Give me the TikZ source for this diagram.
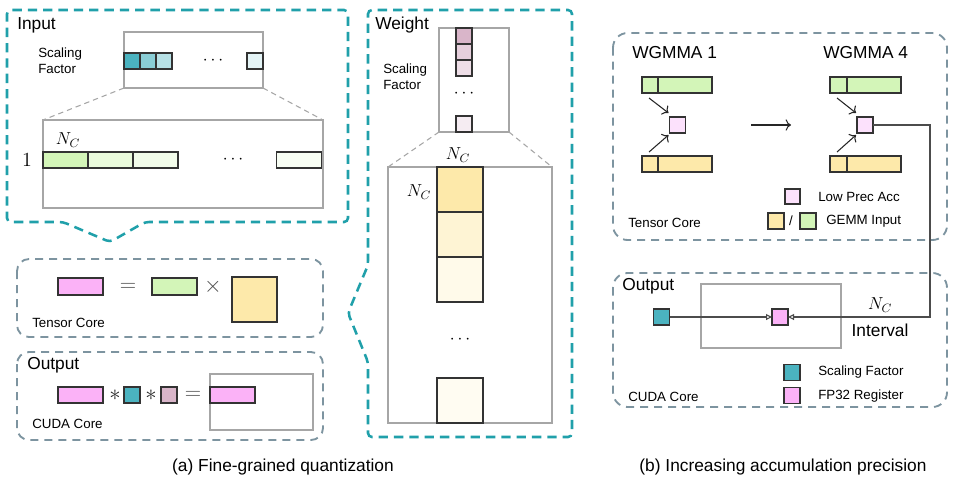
\documentclass[tikz,border=0pt]{standalone}
\usepackage{fix-cm}
\usepackage{fontspec}
\setmainfont{Liberation Sans}
\usetikzlibrary{arrows.meta, positioning, calc}
\definecolor{cteal}{RGB}{32,160,170}
\definecolor{cslate}{RGB}{125,148,160}
\definecolor{csf}{RGB}{75,179,192}
\definecolor{cmauve}{RGB}{217,181,201}
\definecolor{cgreen}{RGB}{211,245,184}
\definecolor{cyellow}{RGB}{253,233,170}
\definecolor{cpink}{RGB}{251,178,247}
\definecolor{cpinklow}{RGB}{252,225,252}

\begin{document}
\begin{tikzpicture}[
    x=0.75pt, y=-0.75pt,
    every node/.style={font=\fontsize{10}{12}\selectfont, inner sep=0pt},
    big/.style={font=\fontsize{13}{15}\selectfont},
    sym/.style={font=\fontsize{17}{19}\selectfont, text=black!70},
    cell/.style={draw=black!80, line width=0.9pt, outer sep=0pt, minimum width=12pt, minimum height=12pt},
    bar/.style={cell, minimum width=33.75pt},
    wcell/.style={cell, minimum width=34.5pt, minimum height=33.75pt},
    frame/.style={draw=gray!70, line width=0.9pt, outer sep=0pt},
    tealbox/.style={draw=cteal, line width=1.9pt, dash pattern=on 7pt off 4.5pt, rounded corners=3pt},
    corebox/.style={draw=cslate, line width=1.4pt, dash pattern=on 6pt off 4.5pt, rounded corners=9pt},
    zoomline/.style={draw=gray!70, line width=0.8pt, dash pattern=on 4pt off 3pt},
    flow/.style={draw=black!85, line width=0.8pt, -{To[scale=1.2]}},
    wire/.style={draw=gray!60!black, line width=0.8pt, -{Triangle[open, length=4.5pt, width=4.5pt]}}
]
\useasboundingbox (0,0) rectangle (960,487);

%% Input
\draw[tealbox] (180,10) -- (348,10) -- (348,222) -- (145,222) -- (110,242) -- (63,222) -- (7,222) -- (7,10) -- cycle;
\node[big, anchor=west] (intitle) at (17,25) {Input};
\node[frame, minimum width=104.25pt, minimum height=42pt] (insf) at (193.5,60) {};
\node[align=left, anchor=west] (insflbl) at (38,61) {Scaling\\Factor};
\node[cell, fill=csf] (sf1) at (132,61) {};
\node[cell, fill=csf!65, right=0pt of sf1] (sf2) {};
\node[cell, fill=csf!40, right=0pt of sf2] (sf3) {};
\node[big] (sfdots) at (213,61) {$\cdots$};
\node[cell, fill=csf!15] (sf4) at (255,61) {};

\node[frame, minimum width=210pt, minimum height=66pt] (inrow) at (183,164) {};
\draw[zoomline] (insf.south west) -- (inrow.north west);
\draw[zoomline] (insf.south east) -- (inrow.north east);
\node[big] (nc1) at (68,140) {$N_C$};
\node[font=\fontsize{15}{17}\selectfont] (one) at (27,160) {$1$};
\node[bar, fill=cgreen] (in1) at (65.5,160) {};
\node[bar, fill=cgreen!50, right=0pt of in1] (in2) {};
\node[bar, fill=cgreen!30, right=0pt of in2] (in3) {};
\node[big] (indots) at (233,160) {$\cdots$};
\node[bar, fill=cgreen!15] (in4) at (299,160) {};

%% Tensor Core (a)
\draw[corebox] (17,259) rectangle (323,337);
\node[cell, fill=cpink, minimum width=33.75pt, minimum height=12.75pt] (accA) at (80.5,286.5) {};
\node[sym] (eqA) at (128,287) {$=$};
\node[cell, fill=cgreen, minimum width=33.75pt, minimum height=12.75pt] (inA) at (174.5,286.5) {};
\node[sym] (timesA) at (213,287) {$\times$};
\node[cell, fill=cyellow, minimum width=33.75pt, minimum height=33.75pt] (wA) at (254.5,299.5) {};
\node[anchor=west] (tcA) at (32,323) {Tensor Core};

%% Output (a)
\draw[corebox] (17,352) rectangle (323,440);
\node[big, anchor=west] (outA) at (27,365) {Output};
\node[bar, fill=cpink] (o1) at (80.5,395) {};
\node[sym, text=black!85] (mul1) at (115,395) {$*$};
\node[cell, fill=csf] (o2) at (132,395) {};
\node[sym, text=black!85] (mul2) at (151,395) {$*$};
\node[cell, fill=cmauve] (o3) at (169,395) {};
\node[sym] (eqB) at (193,395) {$=$};
\node[frame, minimum width=77.25pt, minimum height=42pt] (oframe) at (261.5,402) {};
\node[bar, fill=cpink] (o4) at (232.5,395) {};
\node[anchor=west] (cudaA) at (32,424) {CUDA Core};

%% Weight
\draw[tealbox] (470,10) -- (572,10) -- (572,437) -- (368,437) -- (368,362) -- (348,313) -- (368,265) -- (368,10) -- cycle;
\node[big, anchor=west] (wtitle) at (375,25) {Weight};
\node[frame, minimum width=52.5pt, minimum height=78pt] (wsf) at (474,80) {};
\node[align=left, anchor=west] (wsflbl) at (383,77) {Scaling\\Factor};
\node[cell, fill=cmauve] (ws1) at (464,36) {};
\node[cell, fill=cmauve!65, below=0pt of ws1] (ws2) {};
\node[cell, fill=cmauve!45, below=0pt of ws2] (ws3) {};
\node[big] (wsdots) at (464,94) {$\cdots$};
\node[cell, fill=cmauve!25] (ws4) at (464,124) {};

\node[frame, minimum width=123pt, minimum height=192pt] (wcol) at (470,295) {};
\draw[zoomline] (wsf.south west) -- (wcol.north west);
\draw[zoomline] (wsf.south east) -- (wcol.north east);
\node[big] (nc2) at (458,155) {$N_C$};
\node[big] (nc3) at (419,192) {$N_C$};
\node[wcell, fill=cyellow] (wb1) at (460,189.5) {};
\node[wcell, fill=cyellow!50, below=0pt of wb1] (wb2) {};
\node[wcell, fill=cyellow!25, below=0pt of wb2] (wb3) {};
\node[big] (wdots) at (460,340) {$\cdots$};
\node[wcell, fill=cyellow!15] (wb4) at (460,400.5) {};

%% Tensor Core (b)
\draw[corebox, rounded corners=11pt] (613,33) rectangle (947,240);
\node[big, anchor=west] (wg1) at (632,53) {WGMMA 1};
\node[big, anchor=west] (wg4) at (823,53) {WGMMA 4};

\node[cell, fill=cgreen] (ga1) at (650,85) {};
\node[cell, fill=cgreen, minimum width=40.5pt, right=0pt of ga1] (ga2) {};
\node[cell, fill=cyellow] (ya1) at (650,164) {};
\node[cell, fill=cyellow, minimum width=40.5pt, right=0pt of ya1] (ya2) {};
\node[cell, fill=cpinklow] (acc1) at (677.5,125) {};
\draw[flow] ($(ga1.south west)+(7,5)$) -- ($(acc1.north west)+(-1,-4)$);
\draw[flow] ($(ya1.north west)+(7,-4)$) -- ($(acc1.south west)+(-1,2)$);

\coordinate (stepA) at (751,125);
\coordinate (stepB) at (791,125);
\draw[flow] (stepA) -- (stepB);

\node[cell, fill=cgreen, minimum width=12.75pt] (gb1) at (838.5,85) {};
\node[cell, fill=cgreen, minimum width=40.5pt, right=0pt of gb1] (gb2) {};
\node[cell, fill=cyellow, minimum width=12.75pt] (yb1) at (838.5,164) {};
\node[cell, fill=cyellow, minimum width=40.5pt, right=0pt of yb1] (yb2) {};
\node[cell, fill=cpinklow] (acc4) at (865,125) {};
\draw[flow] ($(gb1.south west)+(7,5)$) -- ($(acc4.north west)+(-1,-4)$);
\draw[flow] ($(yb1.north west)+(7,-4)$) -- ($(acc4.south west)+(-1,2)$);

\node[cell, fill=cpinklow, minimum width=11.25pt, minimum height=11.25pt] (lg1) at (792.5,196.5) {};
\node[anchor=west] (lg1t) at (818,197) {Low Prec Acc};
\node[cell, fill=cyellow] (lg2) at (776,221) {};
\node (slash) at (791,221) {/};
\node[cell, fill=cgreen] (lg3) at (808,221) {};
\node[anchor=west] (lg3t) at (826,221) {GEMM Input};
\node[anchor=west] (tcB) at (628,223) {Tensor Core};

%% CUDA Core (b)
\draw[corebox, rounded corners=11pt] (613,273) rectangle (947,407);
\node[big, anchor=west] (outB) at (622,286) {Output};
\node[frame, minimum width=105pt, minimum height=48pt] (accbox) at (771,316) {};
\node[cell, fill=csf] (sfc) at (661.5,317) {};
\node[cell, fill=cpink] (reg) at (780,317) {};
\coordinate (bend) at (930,317);
\draw[wire] (sfc.east) -- (reg.west);
\draw[wire] (acc4.east) -| (bend) -- (reg.east);
\node[big] (nc4) at (880,305) {$N_C$};
\node[big] (intv) at (880,330) {Interval};

\node[cell, fill=csf] (lg4) at (792,372.5) {};
\node[anchor=west] (lg4t) at (818,372) {Scaling Factor};
\node[cell, fill=cpink] (lg5) at (792,395.5) {};
\node[anchor=west] (lg5t) at (818,396) {FP32 Register};
\node[anchor=west] (cudaB) at (628,397) {CUDA Core};

%% Captions
\node[big] (capa) at (283,467) {(a) Fine-grained quantization};
\node[big] (capb) at (783,467) {(b) Increasing accumulation precision};
\end{tikzpicture}
\end{document}
